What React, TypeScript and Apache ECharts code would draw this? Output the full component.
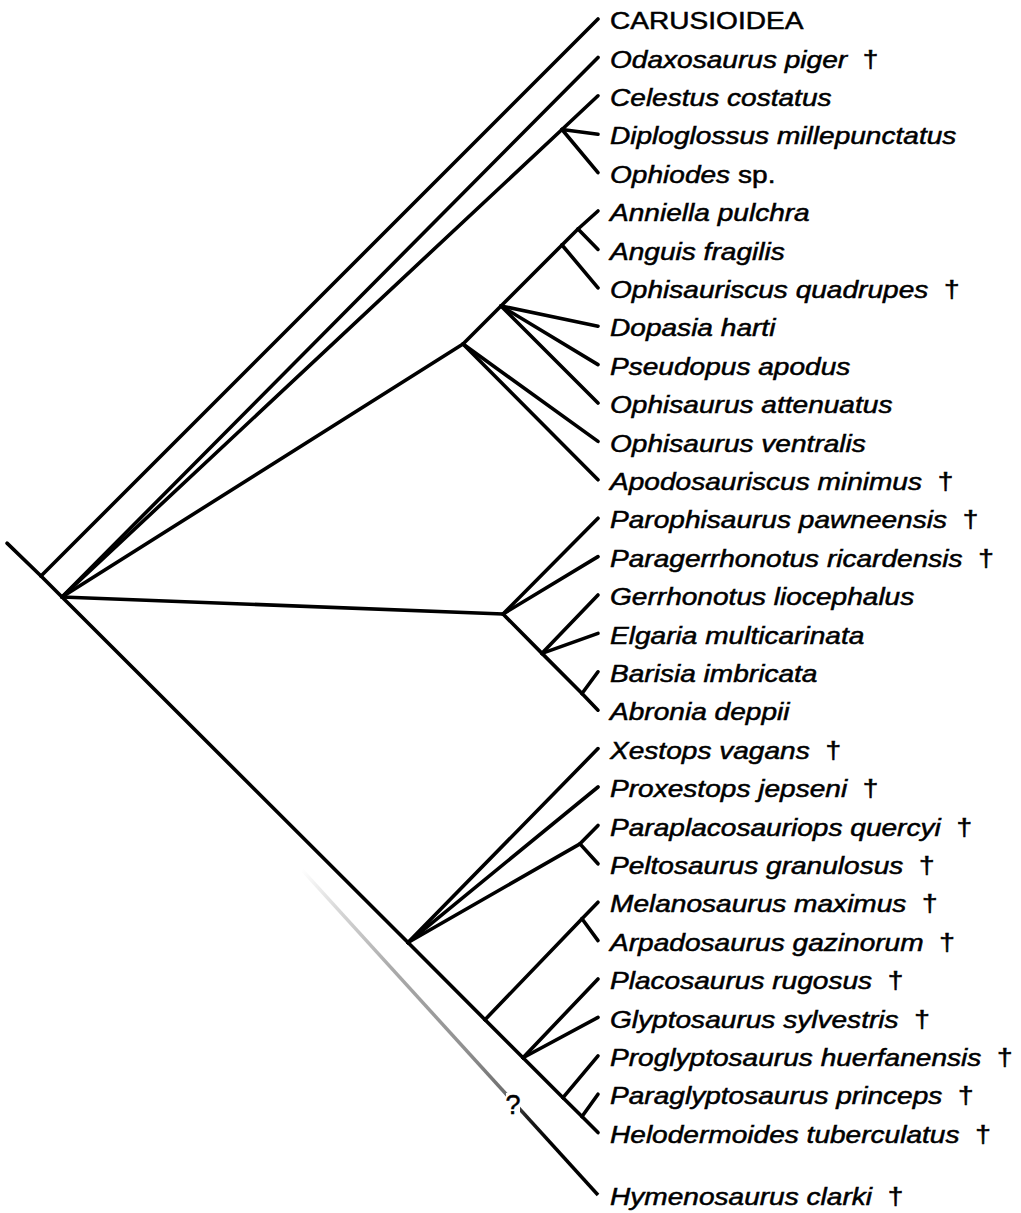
import React, { useEffect, useRef } from "react";
import * as echarts from "echarts";

// Leaves (terminal taxa), top to bottom
const taxa = [
  "CARUSIOIDEA", "Odaxosaurus piger", "Celestus costatus", "Diploglossus millepunctatus", "Ophiodes",
  "Anniella pulchra", "Anguis fragilis", "Ophisauriscus quadrupes", "Dopasia harti", "Pseudopus apodus",
  "Ophisaurus attenuatus", "Ophisaurus ventralis", "Apodosauriscus minimus", "Parophisaurus pawneensis",
  "Paragerrhonotus ricardensis", "Gerrhonotus liocephalus", "Elgaria multicarinata", "Barisia imbricata",
  "Abronia deppii", "Xestops vagans", "Proxestops jepseni", "Paraplacosauriops quercyi",
  "Peltosaurus granulosus", "Melanosaurus maximus", "Arpadosaurus gazinorum", "Placosaurus rugosus",
  "Glyptosaurus sylvestris", "Proglyptosaurus huerfanensis", "Paraglyptosaurus princeps",
  "Helodermoides tuberculatus", "Hymenosaurus clarki",
];
const extinct = [
  0, 1, 0, 0, 0, 0, 0, 1, 0, 0, 0, 0, 1, 1, 1, 0, 0, 0, 0, 1, 1, 1, 1, 1, 1, 1, 1, 1, 1, 1, 1,
];
const roman = ["CARUSIOIDEA"];
const suffix: Record<string, string> = { Ophiodes: " sp." };
const leafRows = [
  0, 1, 2, 3, 4, 5, 6, 7, 8, 9, 10, 11, 12, 13, 14, 15, 16, 17, 18, 19, 20, 21, 22, 23, 24, 25, 26, 27, 28, 29, 30.625,
];
const leafDepth = 598;

// Internal nodes: [id, depth, row]
const nodes: [string, number, number][] = [
  ["root", 7, 13.65],
  ["car", 41, 14.505],
  ["main", 62, 15.052],
  ["dip", 562, 2.877],
  ["ang", 463, 8.464],
  ["dop", 501, 7.474],
  ["angB", 562, 5.885],
  ["angC", 578, 5.469],
  ["ger", 503, 15.495],
  ["gerE", 542, 16.52],
  ["gerF", 582, 17.565],
  ["gX", 408, 24.05],
  ["gP", 580, 21.48],
  ["gY", 485, 26.06],
  ["gM", 582, 23.43],
  ["gZ", 523, 27.05],
  ["gW", 563, 28.09],
  ["gV", 582, 28.58],
];

// Edges: [parent, child]; numbers are leaf indices
const edges: [string, string | number][] = [
  ["root", "car"], ["car", "main"], ["car", 0],
  ["main", 1], ["main", "dip"], ["dip", 2], ["dip", 3], ["dip", 4],
  ["main", "ang"], ["ang", "dop"], ["dop", "angB"], ["angB", "angC"], ["angC", 5], ["angC", 6], ["angB", 7],
  ["dop", 8], ["dop", 9], ["dop", 10], ["ang", 11], ["ang", 12],
  ["main", "ger"], ["ger", 13], ["ger", 14], ["ger", "gerE"], ["gerE", 15], ["gerE", 16], ["gerE", "gerF"],
  ["gerF", 17], ["gerF", 18],
  ["main", "gX"], ["gX", 19], ["gX", 20], ["gX", "gP"], ["gP", 21], ["gP", 22],
  ["gX", "gY"], ["gY", "gM"], ["gM", 23], ["gM", 24], ["gY", "gZ"], ["gZ", 25], ["gZ", 26],
  ["gZ", "gW"], ["gW", 27], ["gW", "gV"], ["gV", 28], ["gV", 29],
];

// Uncertain (gradient) branch to Hymenosaurus: [depth, row] start, ending at leaf 30
const uncertainStart: [number, number] = [302, 22.16];
const questionMark: [number, number] = [513, 28.28];

const ROW0 = 19;
const ROWH = 38.4;

function pos(id: string | number): [number, number] {
  if (typeof id === "number") return [leafDepth, leafRows[id]];
  const n = nodes.find((d) => d[0] === id)!;
  return [n[1], n[2]];
}

function labelText(i: number): string {
  const name = taxa[i];
  let s = roman.includes(name) ? `{n|${name}}` : `{i|${name}}`;
  if (suffix[name]) s += `{n|${suffix[name]}}`;
  if (extinct[i]) s += `{n|  \u2020}`;
  return s;
}

export default function App() {
  const ref = useRef<HTMLDivElement>(null);
  useEffect(() => {
    if (!ref.current) return;
    const chart = echarts.init(ref.current, undefined, { renderer: "svg" });
    const font = "'Liberation Sans', Arial, sans-serif";
    const fs = 24;
    const heavy = { stroke: "#000", lineWidth: 0.5 };
    chart.setOption({
      animation: false,
      backgroundColor: "#ffffff",
      grid: { left: 0, right: 0, top: 0, bottom: 0 },
      xAxis: { type: "value", min: 0, max: 1021, show: false },
      yAxis: {
        type: "value",
        inverse: true,
        min: -ROW0 / ROWH,
        max: (1213 - ROW0) / ROWH,
        show: false,
      },
      series: [
        {
          type: "line",
          data: [uncertainStart, pos(30)],
          showSymbol: false,
          symbol: "none",
          z: 1,
          lineStyle: {
            width: 3.5,
            color: new echarts.graphic.LinearGradient(0, 0, 1, 1, [
              { offset: 0, color: "#ffffff" },
              { offset: 0.12, color: "#d8d8d8" },
              { offset: 0.3, color: "#ababab" },
              { offset: 0.55, color: "#909090" },
              { offset: 0.68, color: "#707070" },
              { offset: 0.76, color: "#202020" },
              { offset: 0.84, color: "#000000" },
              { offset: 1, color: "#000000" },
            ]),
          },
        },
        {
          type: "lines",
          coordinateSystem: "cartesian2d",
          z: 2,
          lineStyle: { color: "#000", width: 3.6, opacity: 1, cap: "round", curveness: 0 },
          data: edges.map((e) => ({ coords: [pos(e[0]), pos(e[1])] })),
        },
        {
          type: "custom",
          z: 3,
          data: [questionMark],
          renderItem: (params: any, api: any) => {
            const p = api.coord([api.value(0), api.value(1)]);
            return {
              type: "group",
              children: [
                { type: "rect", shape: { x: p[0] - 7, y: p[1] - 12, width: 14, height: 24 }, style: { fill: "#fff" } },
                {
                  type: "text",
                  x: p[0],
                  y: p[1],
                  style: {
                    text: "?",
                    fill: "#000",
                    fontSize: 27,
                    fontFamily: font,
                    align: "center",
                    verticalAlign: "middle",
                    ...heavy,
                  },
                },
              ],
            };
          },
        },
        {
          type: "custom",
          z: 4,
          data: taxa.map((_, i) => [leafDepth, leafRows[i], i]),
          renderItem: (params: any, api: any) => {
            const p = api.coord([api.value(0), api.value(1)]);
            const i = api.value(2);
            return {
              type: "text",
              x: p[0] + 12,
              y: p[1] + 2,
              scaleX: 1.17,
              style: {
                text: labelText(i),
                x: 0,
                y: 0,
                fill: "#000",
                fontSize: fs,
                fontFamily: font,
                verticalAlign: "middle",
                align: "left",
                ...heavy,
                rich: {
                  i: { fontStyle: "italic", fontSize: fs, fontFamily: font, fill: "#000", ...heavy },
                  n: { fontStyle: "normal", fontSize: fs, fontFamily: font, fill: "#000", ...heavy },
                },
              },
            };
          },
        },
      ],
    });
    return () => chart.dispose();
  }, []);
  return (
    <div
      ref={ref}
      style={{ position: "absolute", left: 0, top: 0, width: 1021, height: 1213 }}
    />
  );
}
